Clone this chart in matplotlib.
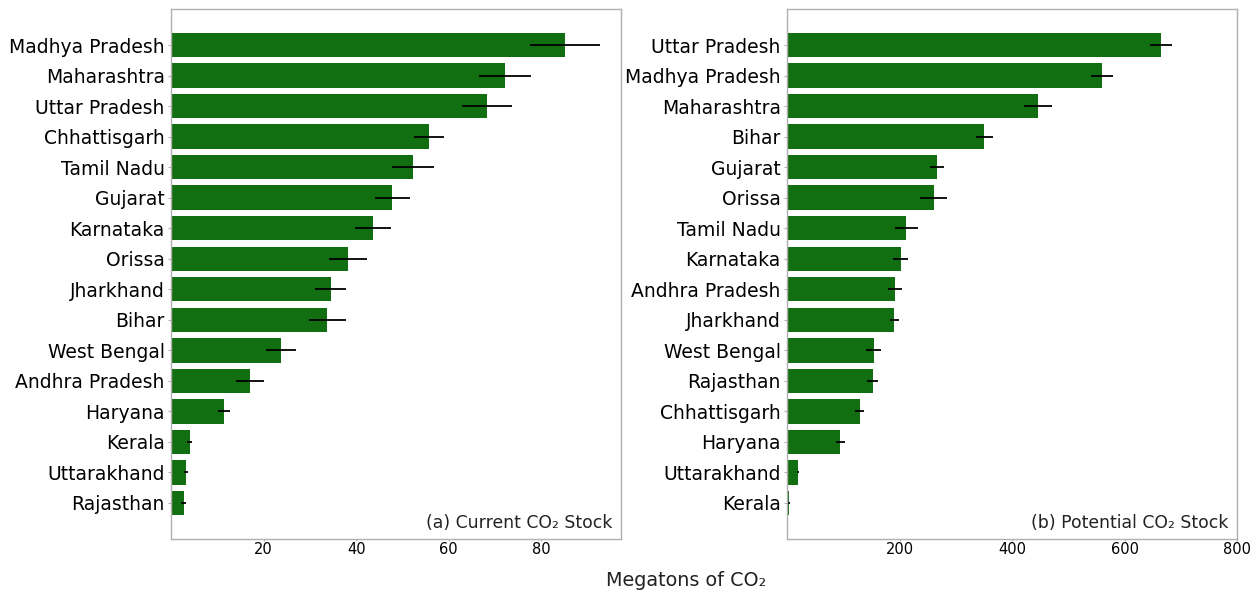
import matplotlib
matplotlib.use("Agg")
import matplotlib.pyplot as plt

# Current CO2 stock by state (megatons), sorted descending
current_states = ["Madhya Pradesh", "Maharashtra", "Uttar Pradesh", "Chhattisgarh",
                  "Tamil Nadu", "Gujarat", "Karnataka", "Orissa", "Jharkhand", "Bihar",
                  "West Bengal", "Andhra Pradesh", "Haryana", "Kerala", "Uttarakhand",
                  "Rajasthan"]
current_values = [85.1, 72.1, 68.2, 55.7, 52.3, 47.8, 43.6, 38.3, 34.5, 33.8,
                  23.7, 17.1, 11.5, 4.0, 3.2, 2.7]
current_errors = [7.5, 5.6, 5.4, 3.3, 4.5, 3.8, 3.9, 4.1, 3.3, 4.0,
                  3.2, 3.0, 1.3, 0.5, 0.5, 0.6]

# Potential CO2 stock by state (megatons), sorted descending
potential_states = ["Uttar Pradesh", "Madhya Pradesh", "Maharashtra", "Bihar", "Gujarat",
                    "Orissa", "Tamil Nadu", "Karnataka", "Andhra Pradesh", "Jharkhand",
                    "West Bengal", "Rajasthan", "Chhattisgarh", "Haryana", "Uttarakhand",
                    "Kerala"]
potential_values = [665, 560, 446, 351, 267, 261, 212, 202, 192, 191,
                    154, 152, 129, 95, 20, 3.6]
potential_errors = [20, 20, 25, 14.6, 12.7, 24, 20.5, 12.7, 12.5, 8.6,
                    13.6, 10, 8.3, 7.5, 2, 1]

current_ticks = [20, 40, 60, 80]
potential_ticks = [200, 400, 600, 800]

BAR_COLOR = "#116e11"
SPINE_COLOR = "#b0b0b0"

fig = plt.figure(figsize=(12.57, 5.92), dpi=100)
ax_a = fig.add_axes([171 / 1257, 53 / 592, 450 / 1257, 530 / 592])
ax_b = fig.add_axes([787 / 1257, 53 / 592, 450 / 1257, 530 / 592])

panels = [
    (ax_a, current_states, current_values, current_errors, current_ticks,
     (0, 97.2), "(a) Current CO\u2082 Stock"),
    (ax_b, potential_states, potential_values, potential_errors, potential_ticks,
     (0, 800), "(b) Potential CO\u2082 Stock"),
]

for ax, states, values, errors, ticks, xlim, label in panels:
    positions = list(range(len(states)))
    ax.barh(positions, values, height=0.8, color=BAR_COLOR,
            xerr=errors, error_kw=dict(ecolor="black", elinewidth=1.3, capsize=0))
    ax.set_yticks(positions)
    ax.set_yticklabels(states, fontsize=13.5)
    ax.set_ylim(len(states) - 1 + 1.18, -1.18)
    ax.set_xlim(*xlim)
    ax.set_xticks(ticks)
    ax.tick_params(axis="x", labelsize=10.5, length=1.5, color=SPINE_COLOR, pad=1)
    ax.tick_params(axis="y", length=2.5, color=SPINE_COLOR, pad=2)
    for spine in ax.spines.values():
        spine.set_color(SPINE_COLOR)
        spine.set_linewidth(1.0)
    ax.text(0.98, 0.013, label, transform=ax.transAxes, ha="right", va="bottom",
            fontsize=12.4, color="#222222")

fig.text(0.5455, 0.003, "Megatons of CO\u2082", ha="center", va="bottom", fontsize=13.8,
         color="#222222")

fig.savefig("out.png", dpi=100, facecolor="white")
